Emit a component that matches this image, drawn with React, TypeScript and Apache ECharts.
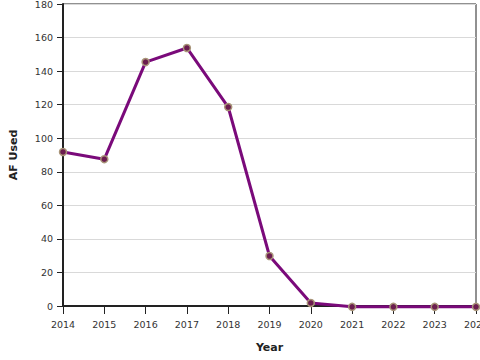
import React, { useEffect, useRef } from "react";
import * as echarts from "echarts";

const years = [2014, 2015, 2016, 2017, 2018, 2019, 2020, 2021, 2022, 2023, 2024];
const afUsed = [91.8, 87.5, 145.4, 153.8, 118.6, 29.8, 1.8, -0.5, -0.5, -0.5, -0.5];

export default function App() {
  const ref = useRef<HTMLDivElement>(null);
  useEffect(() => {
    if (!ref.current) return;
    const chart = echarts.init(ref.current, undefined, { renderer: "svg" });
    const font = "DejaVu Sans";
    chart.setOption({
      animation: false,
      grid: {
        left: 63, right: 4, top: 4, bottom: 54, show: true, borderColor: "#222", borderWidth: 1,
        containLabel: false, outerBoundsMode: "none",
      },
      xAxis: {
        type: "value",
        min: 2014,
        max: 2024,
        interval: 1,
        name: "Year",
        nameLocation: "middle",
        nameGap: 36,
        nameTextStyle: { fontFamily: font, fontWeight: "bold", fontSize: 11, color: "#222" },
        axisLine: { show: true, onZero: false, lineStyle: { color: "#222", width: 2 } },
        axisTick: { show: true, length: 8, lineStyle: { color: "#222", width: 1 } },
        axisLabel: { fontFamily: font, fontSize: 9.5, color: "#333", margin: 13, hideOverlap: false, formatter: (v: number) => String(v) },
        splitLine: { show: false },
      },
      yAxis: {
        type: "value",
        min: 0,
        max: 180,
        interval: 20,
        name: "AF Used",
        nameLocation: "middle",
        nameGap: 44,
        nameRotate: 90,
        nameTextStyle: { fontFamily: font, fontWeight: "bold", fontSize: 11, color: "#222" },
        axisLine: { show: true, lineStyle: { color: "#222", width: 2 } },
        axisTick: { show: true, length: 6, lineStyle: { color: "#222", width: 1 } },
        axisLabel: { fontFamily: font, fontSize: 9.5, color: "#333", margin: 10 },
        splitLine: { show: true, lineStyle: { color: "#d9d9d9", width: 1 } },
      },
      series: [
        {
          type: "line",
          data: years.map((y, i) => [y, afUsed[i]]),
          symbol: "circle",
          symbolSize: 7,
          lineStyle: { color: "#7a0a7a", width: 3 },
          itemStyle: { color: "#6b1d4f", borderColor: "#a89478", borderWidth: 1.5 },
          clip: false,
          z: 3,
        },
      ],
    });
    return () => chart.dispose();
  }, []);
  return <div ref={ref} style={{ width: 480, height: 360, position: "absolute", left: 0, top: 0 }} />;
}
